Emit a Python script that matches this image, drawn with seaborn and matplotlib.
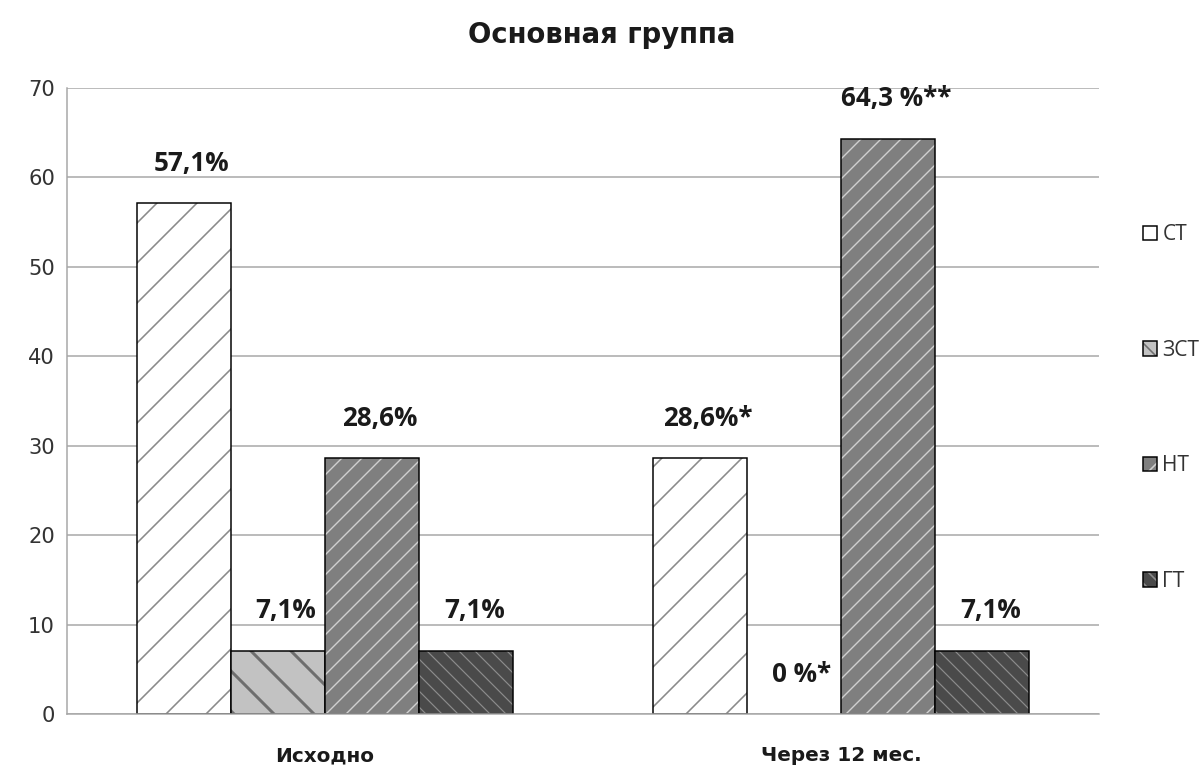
import matplotlib
matplotlib.use("Agg")
import matplotlib.pyplot as plt
import seaborn as sns
import pandas as pd
from matplotlib.colors import to_rgba

# Data
periods = ["Исходно", "Через 12 мес."]
types = ["СТ", "ЗСТ", "НТ", "ГТ"]
values_start = [57.1, 7.1, 28.6, 7.1]
values_12m = [28.6, 0.0, 64.3, 7.1]
labels_start = ["57,1%", "7,1%", "28,6%", "7,1%"]
labels_12m = ["28,6%*", "0 %*", "64,3 %**", "7,1%"]
yticks = [0, 10, 20, 30, 40, 50, 60, 70]

DPI = 240
W, H = 1203, 771


def pt(px):
    """Convert pixel size to points at the figure dpi."""
    return px * 72.0 / DPI


sns.set_theme(style="white")
plt.rcParams["font.family"] = ["Open Sans", "DejaVu Sans"]
plt.rcParams["hatch.linewidth"] = pt(1.6)

df = pd.DataFrame({
    "period": [periods[0]] * 4 + [periods[1]] * 4,
    "type": types * 2,
    "value": values_start + values_12m,
})
df["label"] = labels_start + labels_12m

fills = ["#ffffff", "#c2c2c2", "#7f7f7f", "#4a4a4a"]
hatch_colors = ["#8a8a8a", "#6e6e6e", "#d0d0d0", "#8c8c8c"]
hatches = ["//", "\\\\", "////", "\\\\\\\\\\"]
hatch_widths = [1.6, 3.0, 1.4, 1.2]

fig = plt.figure(figsize=(W / DPI, H / DPI), dpi=DPI)
ax = fig.add_axes([67 / W, 1 - 714 / H, (1099 - 67) / W, (714 - 88) / H])

sns.barplot(data=df, x="period", y="value", hue="type", order=periods,
            hue_order=types, palette=fills, width=0.73, gap=0,
            edgecolor="black", linewidth=pt(1.5), saturation=1,
            errorbar=None, ax=ax)

for cont, hc, hatch, hw in zip(ax.containers, hatch_colors, hatches, hatch_widths):
    for p in cont.patches:
        p.set_hatch(hatch)
        p._hatch_color = to_rgba(hc)
        if hasattr(p, "set_hatch_linewidth"):
            p.set_hatch_linewidth(pt(hw))
        elif hasattr(p, "_hatch_linewidth"):
            p._hatch_linewidth = pt(hw)
        if p.get_height() == 0:
            p.set_linewidth(0)

# value labels above bars
for i, t in enumerate(types):
    cont = ax.containers[i]
    for j, per in enumerate(periods):
        row = df[(df["period"] == per) & (df["type"] == t)].iloc[0]
        p = cont.patches[j]
        xc = p.get_x() + p.get_width() / 2
        ax.annotate(row["label"], (xc, row["value"]), xytext=(pt(8), pt(40)),
                    textcoords="offset points", ha="center", va="center",
                    fontsize=pt(26), fontweight="bold", color="#1a1a1a")

ax.set_ylim(0, 70)
ax.set_xlim(-0.5, 1.5)
ax.set_yticks(yticks)
ax.set_yticklabels([str(v) for v in yticks], family="DejaVu Sans")
ax.yaxis.grid(True, color="#a6a6a6", linewidth=pt(1.5))
ax.set_axisbelow(True)
for s in ["top", "right"]:
    ax.spines[s].set_visible(False)
for s in ["left", "bottom"]:
    ax.spines[s].set_color("#a6a6a6")
    ax.spines[s].set_linewidth(pt(1.5))
ax.tick_params(axis="y", length=0, pad=pt(12), labelsize=pt(21), labelcolor="#333333")
ax.tick_params(axis="x", length=0, pad=pt(32), labelsize=pt(20), labelcolor="#1a1a1a")
for lab in ax.get_xticklabels():
    lab.set_fontweight("bold")
    lab.set_family("DejaVu Sans")
ax.set_xlabel("")
ax.set_ylabel("")

ax.get_legend().remove()
handles = [c.patches[0] for c in ax.containers]
fig.legend(handles, types, loc="center left",
           bbox_to_anchor=(1132 / W, 1 - 408 / H), frameon=False,
           fontsize=pt(21), labelspacing=4.5, handlelength=0.7,
           handleheight=0.7, handletextpad=0.25, borderpad=0,
           labelcolor="#333333")

fig.text(0.5, 1 - 35 / H, "Основная группа", ha="center", va="center",
         fontsize=pt(27.5), fontweight="bold", color="#1a1a1a",
         family="DejaVu Sans")

fig.savefig("out.png", dpi=DPI, facecolor="white")
